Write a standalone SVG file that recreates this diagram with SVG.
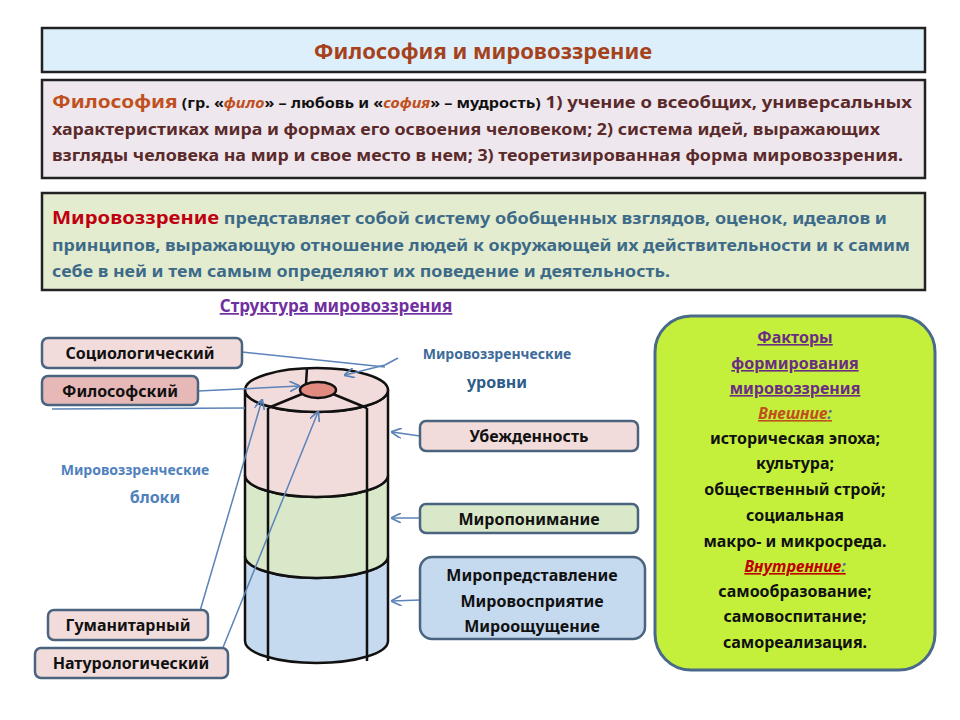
<svg xmlns="http://www.w3.org/2000/svg" width="960" height="720" viewBox="0 0 960 720">
<defs>
<marker id="ah" viewBox="0 0 10 10" refX="9" refY="5" markerWidth="7" markerHeight="7" orient="auto"><path d="M0,0 L10,5 L0,10" fill="none" stroke="#5B83B8" stroke-width="1.6"/></marker>
<style>
text{font-family:"Noto Sans","Open Sans",sans-serif;font-weight:bold}
.hdr{stroke:#222;stroke-width:2.5}
.b{font-size:16px;fill:#5A2A2A}
.g{font-size:16px;fill:#3D6A88}
.lbl{fill:#F2DCDB;stroke:#4A6480;stroke-width:2.5}
.lt{font-size:16px;fill:#111;text-anchor:middle}
.con{stroke:#5B83B8;stroke-width:1.5;fill:none}
.cyl{stroke:#111;stroke-width:2.5}
.f{font-size:16px;fill:#111;text-anchor:middle}
</style>
</defs>
<rect width="960" height="720" fill="#fff"/>
<g id="title"><rect x="42" y="28" width="883" height="44" fill="#DDEFFB" class="hdr"/>
<text x="483" y="59" font-size="22" fill="#A5421C" text-anchor="middle">Философия и мировоззрение</text></g>
<g id="phil"><rect x="42" y="80" width="883" height="98" fill="#EEE7EE" class="hdr"/>
<text x="52" y="108" class="b" textLength="860" lengthAdjust="spacingAndGlyphs"><tspan fill="#C0501E" font-size="18">Философия</tspan><tspan font-size="14" fill="#111"> (гр. «<tspan fill="#C0501E" font-style="italic">фило</tspan>» – любовь и «<tspan fill="#C0501E" font-style="italic">софия</tspan>» – мудрость)</tspan> 1) учение о всеобщих, универсальных</text>
<text x="52" y="135" class="b" textLength="828" lengthAdjust="spacingAndGlyphs">характеристиках мира и формах его освоения человеком; 2) система идей, выражающих</text>
<text x="52" y="161" class="b" textLength="851" lengthAdjust="spacingAndGlyphs">взгляды человека на мир и свое место в нем; 3) теоретизированная форма мировоззрения.</text></g>
<g id="mir"><rect x="42" y="193" width="883" height="97" fill="#E3ECCF" class="hdr"/>
<text x="52" y="224" class="g" textLength="835" lengthAdjust="spacingAndGlyphs"><tspan fill="#C00010" font-size="18">Мировоззрение</tspan> представляет собой систему обобщенных взглядов, оценок, идеалов и</text>
<text x="52" y="251" class="g" textLength="858" lengthAdjust="spacingAndGlyphs">принципов, выражающую отношение людей к окружающей их действительности и к самим</text>
<text x="52" y="277" class="g" textLength="618" lengthAdjust="spacingAndGlyphs">себе в ней и тем самым определяют их поведение и деятельность.</text></g>
<text x="336" y="312" font-size="17" fill="#7030A0" text-anchor="middle" text-decoration="underline">Структура мировоззрения</text>
<g id="cylinder">
<path d="M245,641 V556 A71.5,22 0 0 0 388,556 V641 A71.5,22 0 0 1 245,641Z" fill="#C5D9EF" class="cyl"/>
<path d="M245,556 V475 A71.5,22 0 0 0 388,475 V556 A71.5,22 0 0 1 245,556Z" fill="#D9E8C8" class="cyl"/>
<path d="M245,475 V390 A71.5,22 0 0 0 388,390 V475 A71.5,22 0 0 1 245,475Z" fill="#F2DCDB" class="cyl"/>
<ellipse cx="316.5" cy="390" rx="71.5" ry="22" fill="#F2DCDB" class="cyl"/>
<path d="M268,408 V661 M367,408 V661" class="cyl" fill="none"/>
<path d="M306,384 L307,368 M302,394 L268,408 M333,394 L367,408" class="cyl" fill="none"/>
<ellipse cx="318" cy="390" rx="18" ry="8" fill="#E08A80" class="cyl"/>
</g>
<g id="connectors">
<path class="con" d="M242,352 L385,367"/>
<path class="con" d="M385,365 L345,375" marker-end="url(#ah)"/>
<path class="con" d="M385,365 L398,358"/>
<path class="con" d="M198,391 L299,386" marker-end="url(#ah)"/>
<path class="con" d="M52,409 L245,408"/>
<path class="con" d="M200,611 L262,400" marker-end="url(#ah)"/>
<path class="con" d="M222,650 L318,412" marker-end="url(#ah)"/>
<path class="con" d="M420,436 L392,432" marker-end="url(#ah)"/>
<path class="con" d="M420,518 L392,518" marker-end="url(#ah)"/>
<path class="con" d="M420,600 L392,601" marker-end="url(#ah)"/>
</g>
<g id="soc"><rect x="42" y="338" width="200" height="30" rx="6" class="lbl"/><text x="140" y="359" class="lt">Социологический</text></g>
<g id="fil"><rect x="42" y="376" width="156" height="29" rx="6" class="lbl" style="fill:#E6B8B7"/><text x="120" y="397" class="lt">Философский</text></g>
<g id="gum"><rect x="48" y="610" width="160" height="30" rx="6" class="lbl"/><text x="128" y="631" class="lt">Гуманитарный</text></g>
<g id="nat"><rect x="35" y="648" width="193" height="30" rx="6" class="lbl"/><text x="131" y="669" class="lt">Натурологический</text></g>
<text x="135" y="475" font-size="14" fill="#4F81BD" text-anchor="middle" font-weight="normal">Мировоззренческие</text>
<text x="155" y="503" font-size="16" fill="#4F81BD" text-anchor="middle">блоки</text>
<text x="497" y="359" font-size="14" fill="#3D6A9A" text-anchor="middle">Мировоззренческие</text>
<text x="497" y="388" font-size="16" fill="#2E5C8A" text-anchor="middle">уровни</text>
<g id="ub"><rect x="420" y="421" width="218" height="30" rx="6" class="lbl"/><text x="529" y="442" class="lt">Убежденность</text></g>
<g id="mp"><rect x="420" y="504" width="218" height="29" rx="6" class="lbl" style="fill:#D9E8C8"/><text x="529" y="525" class="lt">Миропонимание</text></g>
<g id="mpr"><rect x="420" y="557" width="225" height="82" rx="12" class="lbl" style="fill:#C5D9EF"/>
<text x="532" y="581" class="lt">Миропредставление</text>
<text x="532" y="607" class="lt">Мировосприятие</text>
<text x="532" y="632" class="lt">Мироощущение</text></g>
<g id="factors"><rect x="655" y="316" width="280" height="354" rx="36" fill="#C4F03C" stroke="#4A6A8A" stroke-width="3"/>
<text x="795" y="343" font-size="16" text-anchor="middle" fill="#6B2D84" text-decoration="underline">Факторы</text>
<text x="795" y="369" font-size="16" text-anchor="middle" fill="#6B2D84" text-decoration="underline">формирования</text>
<text x="795" y="394" font-size="16" text-anchor="middle" fill="#6B2D84" text-decoration="underline">мировоззрения</text>
<text x="795" y="419" font-size="16" fill="#C0501E" font-style="italic" text-anchor="middle" text-decoration="underline">Внешние<tspan fill="#5A6A9A">:</tspan></text>
<text x="795" y="444" class="f">историческая эпоха;</text>
<text x="795" y="469" class="f">культура;</text>
<text x="795" y="495" class="f">общественный строй;</text>
<text x="795" y="521" class="f">социальная</text>
<text x="795" y="547" class="f">макро-  и микросреда.</text>
<text x="795" y="572" font-size="16" fill="#C00000" font-style="italic" text-anchor="middle" text-decoration="underline">Внутренние<tspan fill="#5A6A9A">:</tspan></text>
<text x="795" y="597" class="f">самообразование;</text>
<text x="795" y="622" class="f">самовоспитание;</text>
<text x="795" y="648" class="f">самореализация.</text></g>
</svg>
